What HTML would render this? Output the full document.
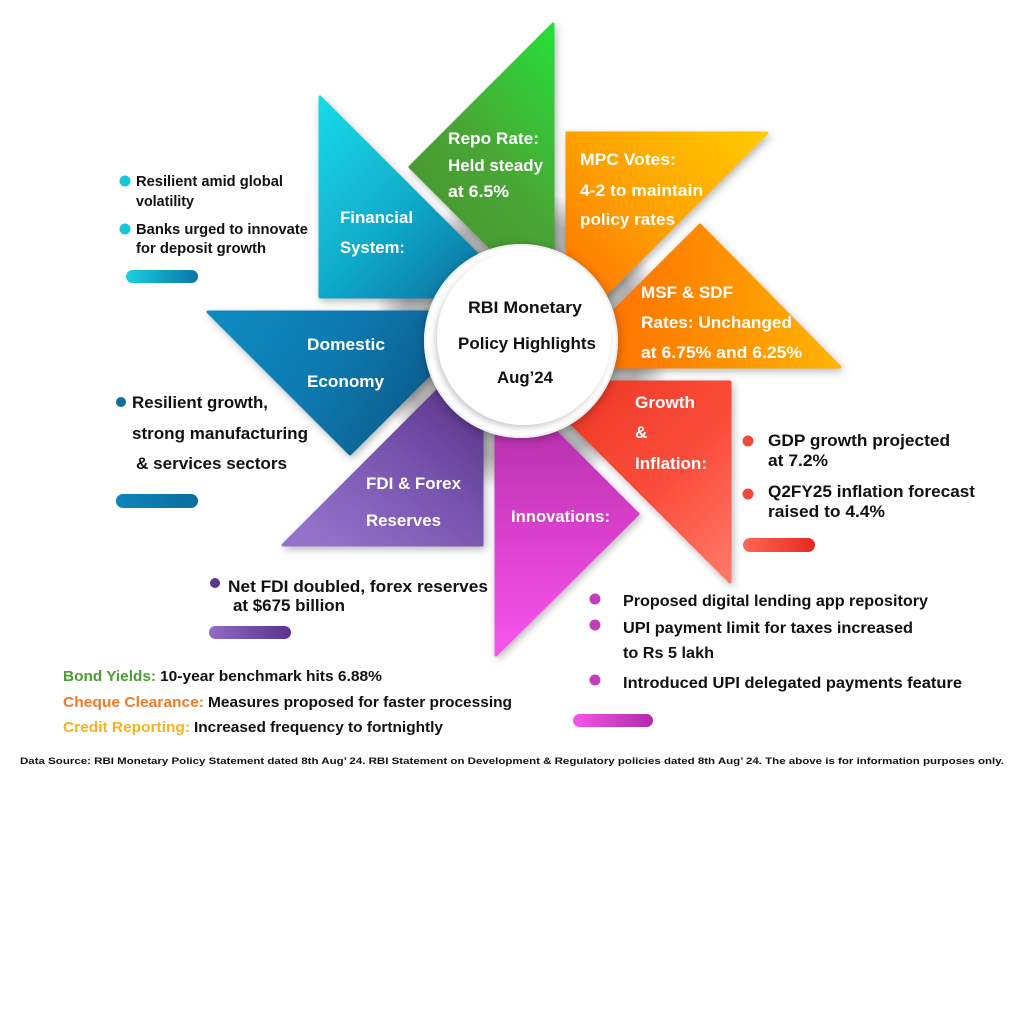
<!DOCTYPE html>
<html>
<head>
<meta charset="utf-8">
<style>
html,body{margin:0;padding:0;background:#fff;}
svg{display:block;}
text{font-family:"Liberation Sans",Arial,sans-serif;font-weight:bold;}
</style>
</head>
<body>
<svg width="1024" height="1024" viewBox="0 0 1024 1024" xmlns="http://www.w3.org/2000/svg">
<defs>
  <radialGradient id="seam" gradientUnits="userSpaceOnUse" cx="521" cy="341" r="150">
    <stop offset="0" stop-color="#a9a9a9"/>
    <stop offset="0.8" stop-color="#b4b4b4"/>
    <stop offset="0.9" stop-color="#d6d6d6"/>
    <stop offset="1" stop-color="#ffffff"/>
  </radialGradient>
  <linearGradient id="gTeal" x1="0" y1="0" x2="1" y2="1">
    <stop offset="0" stop-color="#14dbe8"/>
    <stop offset="0.5" stop-color="#11a9c9"/>
    <stop offset="1" stop-color="#0a5f94"/>
  </linearGradient>
  <linearGradient id="gGreen" x1="1" y1="0" x2="0.4" y2="1">
    <stop offset="0" stop-color="#27df39"/>
    <stop offset="0.55" stop-color="#4aa535"/>
    <stop offset="1" stop-color="#4a942f"/>
  </linearGradient>
  <linearGradient id="gMpc" x1="1" y1="0" x2="0" y2="1">
    <stop offset="0" stop-color="#ffcb00"/>
    <stop offset="0.5" stop-color="#ffa000"/>
    <stop offset="1" stop-color="#ff6a00"/>
  </linearGradient>
  <linearGradient id="gMsf" x1="0" y1="0.5" x2="1" y2="0.5">
    <stop offset="0" stop-color="#ff6500"/>
    <stop offset="0.5" stop-color="#ff8a00"/>
    <stop offset="1" stop-color="#ffb400"/>
  </linearGradient>
  <linearGradient id="gRed" x1="0" y1="0" x2="1" y2="1">
    <stop offset="0" stop-color="#ec3220"/>
    <stop offset="0.6" stop-color="#fb4e3c"/>
    <stop offset="1" stop-color="#ff7a6a"/>
  </linearGradient>
  <linearGradient id="gMag" x1="0" y1="0" x2="0" y2="1">
    <stop offset="0" stop-color="#a52a9c"/>
    <stop offset="0.5" stop-color="#d43dc8"/>
    <stop offset="1" stop-color="#f855ea"/>
  </linearGradient>
  <linearGradient id="gPur" x1="1" y1="0" x2="0.2" y2="1">
    <stop offset="0" stop-color="#4d2576"/>
    <stop offset="0.5" stop-color="#7450aa"/>
    <stop offset="1" stop-color="#9472cc"/>
  </linearGradient>
  <linearGradient id="gDom" x1="0" y1="0" x2="1" y2="0.3">
    <stop offset="0" stop-color="#0a8cc2"/>
    <stop offset="0.5" stop-color="#0a78ae"/>
    <stop offset="1" stop-color="#0b5584"/>
  </linearGradient>
  <linearGradient id="pTeal" x1="0" y1="0" x2="1" y2="0">
    <stop offset="0" stop-color="#1ad0e0"/><stop offset="1" stop-color="#0a74a8"/>
  </linearGradient>
  <linearGradient id="pDom" x1="0" y1="0" x2="1" y2="0">
    <stop offset="0" stop-color="#0a86bc"/><stop offset="1" stop-color="#0a6e9e"/>
  </linearGradient>
  <linearGradient id="pPur" x1="0" y1="0" x2="1" y2="0">
    <stop offset="0" stop-color="#8f6cc6"/><stop offset="1" stop-color="#5a3288"/>
  </linearGradient>
  <linearGradient id="pRed" x1="0" y1="0" x2="1" y2="0">
    <stop offset="0" stop-color="#ff6656"/><stop offset="1" stop-color="#e62a20"/>
  </linearGradient>
  <linearGradient id="pMag" x1="0" y1="0" x2="1" y2="0">
    <stop offset="0" stop-color="#f655e8"/><stop offset="1" stop-color="#b02aa8"/>
  </linearGradient>
  <filter id="sh" x="-20%" y="-20%" width="140%" height="140%">
    <feDropShadow dx="2" dy="3" stdDeviation="4" flood-color="#000" flood-opacity="0.28"/>
  </filter>
  <filter id="csh" x="-30%" y="-30%" width="160%" height="160%">
    <feDropShadow dx="0" dy="2" stdDeviation="5" flood-color="#000" flood-opacity="0.3"/>
  </filter>
  <filter id="ish" x="-30%" y="-30%" width="160%" height="160%">
    <feDropShadow dx="-2" dy="3" stdDeviation="3" flood-color="#000" flood-opacity="0.2"/>
  </filter>
</defs>

<rect width="1024" height="1024" fill="#fff"/>

<!-- seam shading near circle -->
<circle cx="521" cy="341" r="150" fill="url(#seam)"/>

<!-- blades -->
<g stroke-linejoin="round" stroke-width="3" filter="url(#sh)">
  <polygon points="320,97 320,297 520,297" fill="url(#gTeal)" stroke="url(#gTeal)"/>
  <polygon points="553,24 410,167 553,310" fill="url(#gGreen)" stroke="url(#gGreen)"/>
  <polygon points="567,133 767,133 567,333" fill="url(#gMpc)" stroke="url(#gMpc)"/>
  <polygon points="700,225 840,367 558,367" fill="url(#gMsf)" stroke="url(#gMsf)"/>
  <polygon points="530,382 730,382 730,582" fill="url(#gRed)" stroke="url(#gRed)"/>
  <polygon points="496,372 638,514 496,655" fill="url(#gMag)" stroke="url(#gMag)"/>
  <polygon points="283,545 482,545 482,346" fill="url(#gPur)" stroke="url(#gPur)"/>
  <polygon points="208,312 492,312 350,454" fill="url(#gDom)" stroke="url(#gDom)"/>
</g>

<!-- centre circle -->
<circle cx="521" cy="341" r="97" fill="#fff" filter="url(#csh)"/>
<circle cx="521" cy="341" r="96" fill="none" stroke="#eeeeee" stroke-width="2"/>
<circle cx="524" cy="338" r="87" fill="#fff" filter="url(#ish)"/>

<!-- circle text -->
<g fill="#111" font-size="17">
  <text x="468" y="313" textLength="114" lengthAdjust="spacingAndGlyphs">RBI Monetary</text>
  <text x="458" y="349" textLength="138" lengthAdjust="spacingAndGlyphs">Policy Highlights</text>
  <text x="497" y="383" textLength="56" lengthAdjust="spacingAndGlyphs">Aug’24</text>
</g>

<!-- blade labels -->
<g fill="#fff" font-size="17">
  <text x="340" y="223" textLength="73" lengthAdjust="spacingAndGlyphs">Financial</text>
  <text x="340" y="253" textLength="65" lengthAdjust="spacingAndGlyphs">System:</text>

  <text x="448" y="144" textLength="91" lengthAdjust="spacingAndGlyphs">Repo Rate:</text>
  <text x="448" y="171" textLength="95" lengthAdjust="spacingAndGlyphs">Held steady</text>
  <text x="448" y="197" textLength="61" lengthAdjust="spacingAndGlyphs">at 6.5%</text>

  <text x="580" y="165" textLength="96" lengthAdjust="spacingAndGlyphs">MPC Votes:</text>
  <text x="580" y="196" textLength="123" lengthAdjust="spacingAndGlyphs">4-2 to maintain</text>
  <text x="580" y="225" textLength="95" lengthAdjust="spacingAndGlyphs">policy rates</text>

  <text x="641" y="298" textLength="92" lengthAdjust="spacingAndGlyphs">MSF &amp; SDF</text>
  <text x="641" y="328" textLength="151" lengthAdjust="spacingAndGlyphs">Rates: Unchanged</text>
  <text x="641" y="358" textLength="161" lengthAdjust="spacingAndGlyphs">at 6.75% and 6.25%</text>

  <text x="307" y="350" textLength="78" lengthAdjust="spacingAndGlyphs">Domestic</text>
  <text x="307" y="387" textLength="77" lengthAdjust="spacingAndGlyphs">Economy</text>

  <text x="366" y="489" textLength="95" lengthAdjust="spacingAndGlyphs">FDI &amp; Forex</text>
  <text x="366" y="526" textLength="75" lengthAdjust="spacingAndGlyphs">Reserves</text>

  <text x="635" y="408" textLength="60" lengthAdjust="spacingAndGlyphs">Growth</text>
  <text x="635" y="438">&amp;</text>
  <text x="635" y="469" textLength="72" lengthAdjust="spacingAndGlyphs">Inflation:</text>

  <text x="511" y="522" textLength="99" lengthAdjust="spacingAndGlyphs">Innovations:</text>
</g>

<!-- Financial system bullets -->
<g fill="#111" font-size="14.5">
  <circle cx="125" cy="181" r="5.5" fill="#19c6da"/>
  <text x="136" y="186" textLength="147" lengthAdjust="spacingAndGlyphs">Resilient amid global</text>
  <text x="136" y="206" textLength="58" lengthAdjust="spacingAndGlyphs">volatility</text>
  <circle cx="125" cy="229" r="5.5" fill="#19c6da"/>
  <text x="136" y="234" textLength="172" lengthAdjust="spacingAndGlyphs">Banks urged to innovate</text>
  <text x="136" y="253" textLength="130" lengthAdjust="spacingAndGlyphs">for deposit growth</text>
</g>
<rect x="126" y="270" width="72" height="13" rx="6.5" fill="url(#pTeal)"/>

<!-- Domestic economy bullets -->
<g fill="#111" font-size="16.5">
  <circle cx="121" cy="402" r="5" fill="#0a6fa0"/>
  <text x="132" y="408" textLength="136" lengthAdjust="spacingAndGlyphs">Resilient growth,</text>
  <text x="132" y="439" textLength="176" lengthAdjust="spacingAndGlyphs">strong manufacturing</text>
  <text x="136" y="469" textLength="151" lengthAdjust="spacingAndGlyphs">&amp; services sectors</text>
</g>
<rect x="116" y="494" width="82" height="14" rx="7" fill="url(#pDom)"/>

<!-- FDI bullets -->
<g fill="#111" font-size="16.5">
  <circle cx="215" cy="583" r="5" fill="#5a3888"/>
  <text x="228" y="592" textLength="260" lengthAdjust="spacingAndGlyphs">Net FDI doubled, forex reserves</text>
  <text x="233" y="611" textLength="112" lengthAdjust="spacingAndGlyphs">at $675 billion</text>
</g>
<rect x="209" y="626" width="82" height="13" rx="6.5" fill="url(#pPur)"/>

<!-- Growth bullets -->
<g fill="#111" font-size="16.5">
  <circle cx="748" cy="441" r="5.5" fill="#f04a3a"/>
  <text x="768" y="446" textLength="182" lengthAdjust="spacingAndGlyphs">GDP growth projected</text>
  <text x="768" y="466" textLength="60" lengthAdjust="spacingAndGlyphs">at 7.2%</text>
  <circle cx="748" cy="494" r="5.5" fill="#f04a3a"/>
  <text x="768" y="497" textLength="207" lengthAdjust="spacingAndGlyphs">Q2FY25 inflation forecast</text>
  <text x="768" y="517" textLength="117" lengthAdjust="spacingAndGlyphs">raised to 4.4%</text>
</g>
<rect x="743" y="538" width="72" height="14" rx="7" fill="url(#pRed)"/>

<!-- Innovations bullets -->
<g fill="#111" font-size="16">
  <circle cx="595" cy="599" r="5.5" fill="#c040b8"/>
  <text x="623" y="606" textLength="305" lengthAdjust="spacingAndGlyphs">Proposed digital lending app repository</text>
  <circle cx="595" cy="625" r="5.5" fill="#c040b8"/>
  <text x="623" y="633" textLength="290" lengthAdjust="spacingAndGlyphs">UPI payment limit for taxes increased</text>
  <text x="623" y="658" textLength="91" lengthAdjust="spacingAndGlyphs">to Rs 5 lakh</text>
  <circle cx="595" cy="680" r="5.5" fill="#c040b8"/>
  <text x="623" y="688" textLength="339" lengthAdjust="spacingAndGlyphs">Introduced UPI delegated payments feature</text>
</g>
<rect x="573" y="714" width="80" height="13" rx="6.5" fill="url(#pMag)"/>

<!-- Bottom list -->
<g font-size="15">
  <text x="63" y="681" fill="#4a9e34" textLength="93" lengthAdjust="spacingAndGlyphs">Bond Yields:</text>
  <text x="160" y="681" fill="#111" textLength="222" lengthAdjust="spacingAndGlyphs">10-year benchmark hits 6.88%</text>
  <text x="63" y="707" fill="#f07a28" textLength="141" lengthAdjust="spacingAndGlyphs">Cheque Clearance:</text>
  <text x="208" y="707" fill="#111" textLength="304" lengthAdjust="spacingAndGlyphs">Measures proposed for faster processing</text>
  <text x="63" y="732" fill="#f5b21e" textLength="127" lengthAdjust="spacingAndGlyphs">Credit Reporting:</text>
  <text x="194" y="732" fill="#111" textLength="249" lengthAdjust="spacingAndGlyphs">Increased frequency to fortnightly</text>
</g>

<!-- Data source -->
<text x="20" y="764" fill="#111" font-size="9.5" textLength="984" lengthAdjust="spacingAndGlyphs">Data Source: RBI Monetary Policy Statement dated 8th Aug’ 24. RBI Statement on Development &amp; Regulatory policies dated  8th Aug’ 24. The above is for information purposes only.</text>
</svg>
</body>
</html>
